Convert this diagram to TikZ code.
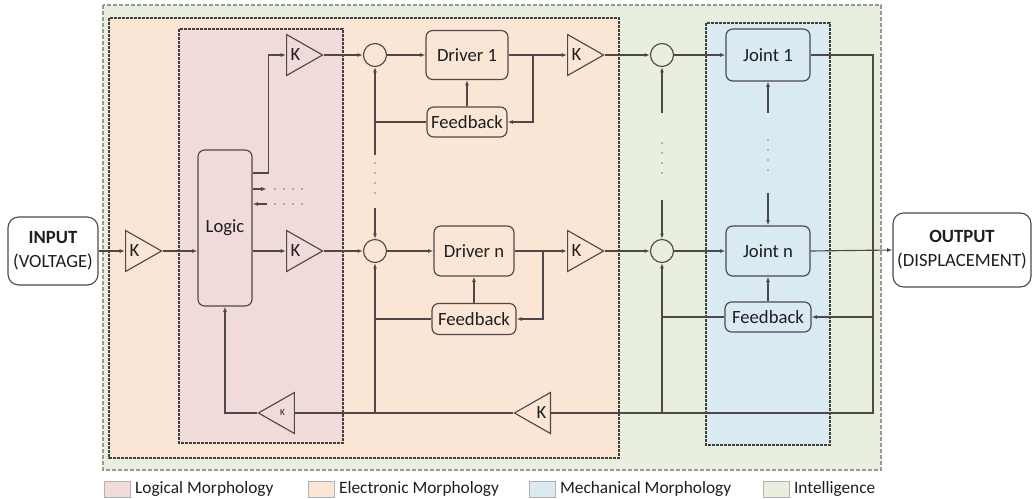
\documentclass[tikz,border=0pt]{standalone}
\usepackage{fontspec}
\setmainfont{Carlito}
\usetikzlibrary{shapes.geometric,arrows.meta,calc}

\definecolor{linec}{RGB}{80,72,72}
\definecolor{txtc}{RGB}{30,30,30}
\definecolor{intel}{RGB}{232,239,222}
\definecolor{elec}{RGB}{251,230,214}
\definecolor{logi}{RGB}{240,218,218}
\definecolor{mech}{RGB}{217,234,243}

\begin{document}
\begin{tikzpicture}[x=0.75pt,y=-0.75pt,
  every node/.style={text=txtc, font=\fontsize{14}{17}\selectfont},
  wire/.style={draw=linec, line width=0.85pt},
  arr/.style={wire, -{Latex[length=4pt,width=3pt]}},
  blk/.style={draw=linec, line width=0.85pt, rounded corners=5pt, inner sep=0pt},
  term/.style={blk, rounded corners=8pt, align=center, font=\fontsize{14}{18}\selectfont},
  amp/.style={draw=linec, line width=0.85pt, isosceles triangle, isosceles triangle stretches,
    minimum width=30.75pt, minimum height=27pt, inner sep=0pt, anchor=west},
  ampl/.style={amp, shape border rotate=180, anchor=east},
  ktxt/.style={label={[anchor=west]west:K}},
  ktxtl/.style={label={[anchor=east]east:K}},
  sumj/.style={draw=linec, line width=0.85pt, circle, minimum size=17.25pt, inner sep=0pt},
  zone/.style={line width=0.8pt, dash pattern=on 2pt off 1pt, draw=black!75},
  dotsh/.style={draw=linec!80, line width=1.3pt, line cap=round, dash pattern=on 0pt off 6.75pt},
  dotsv/.style={draw=linec!70, line width=1.2pt, line cap=round, dash pattern=on 0pt off 7.5pt},
  swatch/.style={draw=black!30, line width=0.6pt, minimum width=19.5pt, minimum height=12pt, inner sep=0pt},
  legtxt/.style={anchor=west, font=\fontsize{13}{15}\selectfont}
]
\useasboundingbox (0,0) rectangle (1033,499);

% morphology zones
\filldraw[fill=intel, draw=black!40, line width=0.8pt, dash pattern=on 3pt off 1.5pt] (103,5) rectangle (881,470);
\filldraw[fill=elec, zone] (109,18) rectangle (619,458);
\filldraw[fill=logi, zone] (179,29) rectangle (343,443);
\filldraw[fill=mech, zone] (706,23) rectangle (830,445);

% terminals
\node[term, minimum width=67.5pt, minimum height=51pt] (in) at (53,251) {\textbf{INPUT}\\(VOLTAGE)};
\node[term, minimum width=103.5pt, minimum height=55.5pt] (out) at (962,250) {\textbf{OUTPUT}\\(DISPLACEMENT)};

% logical layer
\node[amp, ktxt] (kin) at (125,251) {};
\node[blk, minimum width=40.5pt, minimum height=117pt] (logic) at (225,228) {Logic};
\node[amp, ktxt] (k1) at (286,55) {};
\node[amp, ktxt] (kn) at (286,251) {};
\node[ampl, label={[anchor=east, xshift=-4pt, font=\fontsize{7}{8}\selectfont]east:K}] (ks) at (295,413) {};

% electronic layer
\node[sumj] (s1) at (375,55) {};
\node[sumj] (sn) at (375,251) {};
\node[blk, minimum width=61.5pt, minimum height=36.75pt] (drv1) at (467,55) {Driver 1};
\node[blk, minimum width=60pt, minimum height=37.5pt] (drvn) at (474,251) {Driver n};
\node[blk, minimum width=60pt, minimum height=22.5pt] (fb1) at (467,122) {Feedback};
\node[blk, minimum width=63pt, minimum height=23.25pt] (fbn) at (474,319) {Feedback};
\node[amp, ktxt] (ka1) at (567,55) {};
\node[amp, ktxt] (kan) at (567,251) {};
\node[ampl, ktxtl] (kb) at (551,413) {};

% mechanical layer
\node[sumj] (t1) at (662,55) {};
\node[sumj] (tn) at (662,251) {};
\node[blk, minimum width=63pt, minimum height=39pt] (j1) at (768,55) {Joint 1};
\node[blk, minimum width=63pt, minimum height=37.5pt] (jn) at (768,251) {Joint n};
\node[blk, minimum width=64.5pt, minimum height=22.5pt] (fbm) at (768,317) {Feedback};

% bend points
\coordinate (lo1) at (0,173);
\coordinate (lo2) at (0,189);
\coordinate (lo3) at (0,204);
\coordinate (d2) at (267,204);
\coordinate (br1) at (533,55);
\coordinate (brn) at (543,251);
\coordinate (rv) at (873,413);

% input path
\draw[arr] (in.east) -- (kin.west);
\draw[arr] (kin.east) -- (kin.east -| logic.west);

% logic outputs
\draw[arr] (logic.east |- lo1) -- ++(16,0) |- (k1.west);
\draw[arr] (logic.east |- lo2) -- ++(14,0);
\draw[arr] (d2) -- (logic.east |- lo3);
\draw[dotsh] (275,189) -- (304,189);
\draw[dotsh] (275,204) -- (304,204);
\draw[arr] (kn.west -| logic.east) -- (kn.west);

% driver row 1
\draw[arr] (k1.east) -- (s1.west);
\draw[arr] (s1.east) -- (drv1.west);
\draw[arr] (drv1.east) -- (ka1.west);
\draw[arr] (br1) |- (fb1.east);
\draw[arr] (fb1.north) -- (drv1.south);
\draw[wire] (fb1.west) -- (fb1.west -| s1);

% driver row n
\draw[arr] (kn.east) -- (sn.west);
\draw[arr] (sn.east) -- (drvn.west);
\draw[arr] (drvn.east) -- (kan.west);
\draw[arr] (brn) |- (fbn.east);
\draw[arr] (fbn.north) -- (drvn.south);
\draw[wire] (fbn.west) -- (fbn.west -| sn);

% electronic feedback bus
\draw[arr] (s1 |- 0,155) -- (s1.south);
\draw[dotsv] (s1 |- 0,163) -- (s1 |- 0,194);
\draw[arr] (s1 |- 0,208) -- (sn.north);
\draw[arr] (s1 |- rv) -- (sn.south);

% mechanical rows
\draw[arr] (ka1.east) -- (t1.west);
\draw[arr] (t1.east) -- (j1.west);
\draw[arr] (kan.east) -- (tn.west);
\draw[arr] (tn.east) -- (jn.west);
\draw[arr] (jn.east) -- (out.west);

% intelligence feedback bus
\draw[arr] (t1 |- 0,113) -- (t1.south);
\draw[dotsv] (t1 |- 0,143) -- (t1 |- 0,174);
\draw[arr] (t1 |- 0,200) -- (tn.north);
\draw[arr] (tn |- rv) -- (tn.south);
\draw[wire] (fbm.west) -- (fbm.west -| tn);

% joint coupling
\draw[arr] (j1 |- 0,113) -- (j1.south);
\draw[dotsv] (j1 |- 0,140) -- (j1 |- 0,171);
\draw[arr] (j1 |- 0,193) -- (jn.north);
\draw[arr] (fbm.north) -- (jn.south);

% global feedback loop
\draw[wire] (j1.east) -| (rv) -- (kb.east);
\draw[arr] (rv |- fbm.east) -- (fbm.east);
\draw[wire] (kb.west) -- (ks.east);
\draw[arr] (ks.west) -| (logic.south);

% legend
\node[swatch, fill=logi] (lg1) at (117,489) {};
\node[legtxt] at (lg1.east) {Logical Morphology};
\node[swatch, fill=elec] (lg2) at (321,489) {};
\node[legtxt] at (lg2.east) {Electronic Morphology};
\node[swatch, fill=mech] (lg3) at (542,489) {};
\node[legtxt] at (lg3.east) {Mechanical Morphology};
\node[swatch, fill=intel] (lg4) at (776,489) {};
\node[legtxt] at (lg4.east) {Intelligence};
\end{tikzpicture}
\end{document}
